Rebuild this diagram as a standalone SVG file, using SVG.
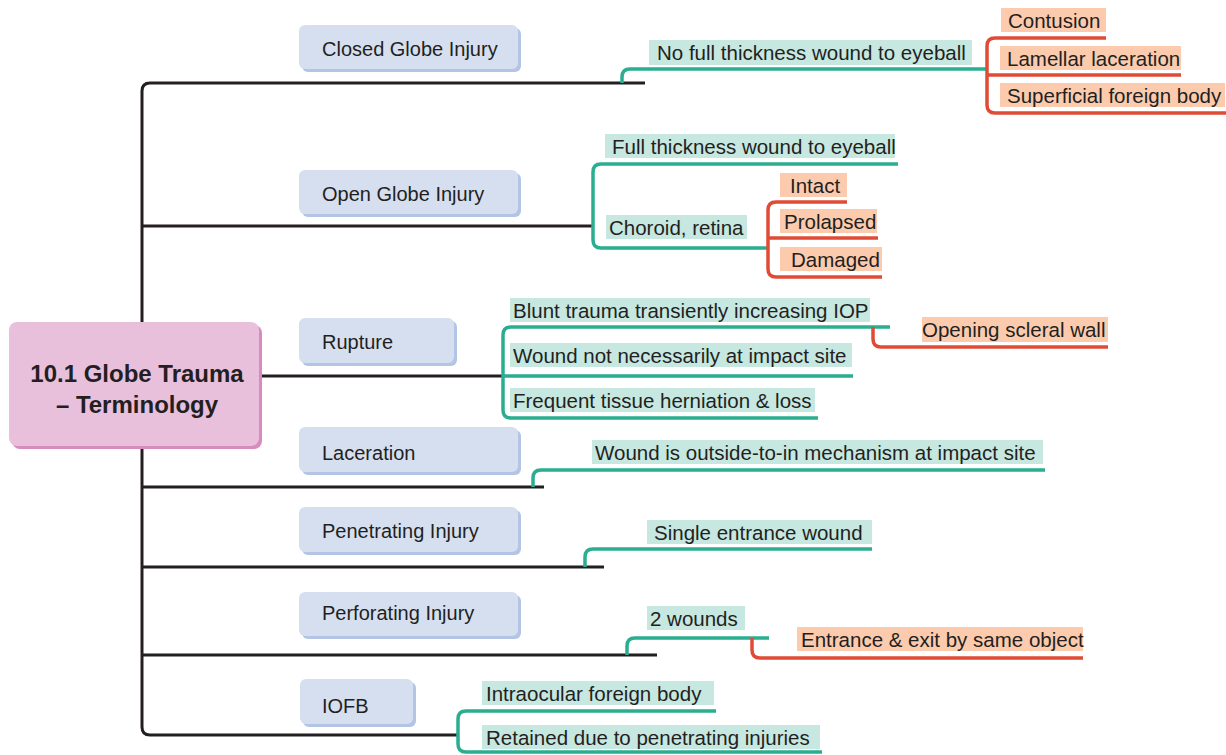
<svg xmlns="http://www.w3.org/2000/svg" width="1226" height="755" viewBox="0 0 1226 755">
<style>
text{font-family:"Liberation Sans",Arial,sans-serif;fill:#231f20;font-size:20.5px}
.title{font-weight:bold;font-size:24px;text-anchor:middle}
.ct{font-size:20px}
.cat{fill:#d6dff0}
.catsh{fill:#b4c4e4}
.tbg{fill:#c7e7e1}
.obg{fill:#fccbae}
.blk{stroke:#231f20;stroke-width:3;fill:none}
.tl{stroke:#2aae8f;stroke-width:3.5;fill:none}
.rd{stroke:#e04b36;stroke-width:3.5;fill:none}
</style>
<rect width="1226" height="755" fill="#ffffff"/>
<g id="connectors">
<path class="blk" d="M645,83 H150 Q142,83 142,91 V727 Q142,735 150,735 H459"/>
<path class="blk" d="M142,226 H593"/>
<path class="blk" d="M260,376 H503"/>
<path class="blk" d="M142,487 H544"/>
<path class="blk" d="M142,567 H604"/>
<path class="blk" d="M142,655 H657"/>
<path class="tl" d="M622,83 V77 Q622,69 630,69 H987"/>
<path class="tl" d="M898,164 H601 Q593,164 593,172 V240 Q593,248 601,248 H768"/>
<path class="tl" d="M890,327 H511 Q503,327 503,335 V410 Q503,418 511,418 H818 M503,376 H853"/>
<path class="tl" d="M533,487 V478 Q533,470 541,470 H1045"/>
<path class="tl" d="M585,567 V557 Q585,549 593,549 H872"/>
<path class="tl" d="M627,655 V646 Q627,638 635,638 H769"/>
<path class="tl" d="M716,711 H466 Q458,711 458,719 V744 Q458,752 466,752 H822"/>
<path class="rd" d="M1106,38 H995 Q987,38 987,46 V105 Q987,113 995,113 H1226 M987,75 H1181"/>
<path class="rd" d="M847,202 H776 Q768,202 768,210 V269 Q768,277 776,277 H882 M768,238 H878"/>
<path class="rd" d="M873,327 V339 Q873,347 881,347 H1108"/>
<path class="rd" d="M752,638 V650 Q752,658 760,658 H1083"/>
</g>
<g id="root">
<rect x="12" y="325" width="250" height="124" rx="8" fill="#d68cbf"/>
<rect x="9" y="322" width="250" height="124" rx="8" fill="#e8c0dc"/>
<text class="title" x="137" y="382">10.1 Globe Trauma</text>
<text class="title" x="137" y="413">– Terminology</text>
</g>
<g id="closed-globe">
<rect class="catsh" x="302" y="28" width="219" height="44" rx="6"/>
<rect class="cat" x="299" y="25" width="219" height="44" rx="6"/>
<text class="ct" x="322" y="56">Closed Globe Injury</text>
</g>
<g id="open-globe">
<rect class="catsh" x="302" y="173" width="219" height="44" rx="6"/>
<rect class="cat" x="299" y="170" width="219" height="44" rx="6"/>
<text class="ct" x="322" y="201">Open Globe Injury</text>
</g>
<g id="rupture">
<rect class="catsh" x="302" y="321" width="155" height="45" rx="6"/>
<rect class="cat" x="299" y="318" width="155" height="45" rx="6"/>
<text class="ct" x="322" y="349">Rupture</text>
</g>
<g id="laceration">
<rect class="catsh" x="302" y="430" width="219" height="45" rx="6"/>
<rect class="cat" x="299" y="427" width="219" height="45" rx="6"/>
<text class="ct" x="322" y="460">Laceration</text>
</g>
<g id="penetrating">
<rect class="catsh" x="302" y="510" width="219" height="45" rx="6"/>
<rect class="cat" x="299" y="507" width="219" height="45" rx="6"/>
<text class="ct" x="322" y="538">Penetrating Injury</text>
</g>
<g id="perforating">
<rect class="catsh" x="302" y="595" width="219" height="44" rx="6"/>
<rect class="cat" x="299" y="592" width="219" height="44" rx="6"/>
<text class="ct" x="322" y="620">Perforating Injury</text>
</g>
<g id="iofb">
<rect class="catsh" x="303" y="682" width="113" height="45" rx="6"/>
<rect class="cat" x="300" y="679" width="113" height="45" rx="6"/>
<text class="ct" x="322" y="713">IOFB</text>
</g>
<g id="leaf-no-full">
<rect class="tbg" x="649" y="40" width="323" height="25"/>
<text x="657" y="60">No full thickness wound to eyeball</text>
</g>
<g id="leaf-contusion">
<rect class="obg" x="1001" y="8" width="105" height="24"/>
<text x="1008" y="28">Contusion</text>
</g>
<g id="leaf-lamellar">
<rect class="obg" x="1000" y="46" width="181" height="24"/>
<text x="1007" y="66">Lamellar laceration</text>
</g>
<g id="leaf-superficial">
<rect class="obg" x="1000" y="83" width="225" height="24"/>
<text x="1007" y="103">Superficial foreign body</text>
</g>
<g id="leaf-full">
<rect class="tbg" x="605" y="134" width="290" height="24"/>
<text x="612" y="154">Full thickness wound to eyeball</text>
</g>
<g id="leaf-choroid">
<rect class="tbg" x="606" y="215" width="141" height="24"/>
<text x="609" y="235">Choroid, retina</text>
</g>
<g id="leaf-intact">
<rect class="obg" x="780" y="173" width="67" height="24"/>
<text x="790" y="193">Intact</text>
</g>
<g id="leaf-prolapsed">
<rect class="obg" x="780" y="209" width="97" height="24"/>
<text x="784" y="229">Prolapsed</text>
</g>
<g id="leaf-damaged">
<rect class="obg" x="780" y="247" width="102" height="24"/>
<text x="791" y="267">Damaged</text>
</g>
<g id="leaf-blunt">
<rect class="tbg" x="510" y="298" width="360" height="24"/>
<text x="513" y="318">Blunt trauma transiently increasing IOP</text>
</g>
<g id="leaf-opening">
<rect class="obg" x="922" y="317" width="186" height="25"/>
<text x="922" y="337">Opening scleral wall</text>
</g>
<g id="leaf-wound-not">
<rect class="tbg" x="510" y="343" width="342" height="24"/>
<text x="513" y="363">Wound not necessarily at impact site</text>
</g>
<g id="leaf-frequent">
<rect class="tbg" x="510" y="388" width="305" height="24"/>
<text x="513" y="408">Frequent tissue herniation &amp; loss</text>
</g>
<g id="leaf-outside">
<rect class="tbg" x="592" y="440" width="451" height="24"/>
<text x="595" y="460">Wound is outside-to-in mechanism at impact site</text>
</g>
<g id="leaf-single">
<rect class="tbg" x="647" y="520" width="225" height="24"/>
<text x="654" y="540">Single entrance wound</text>
</g>
<g id="leaf-2wounds">
<rect class="tbg" x="647" y="606" width="98" height="24"/>
<text x="650" y="626">2 wounds</text>
</g>
<g id="leaf-entrance">
<rect class="obg" x="797" y="627" width="286" height="24"/>
<text x="801" y="647">Entrance &amp; exit by same object</text>
</g>
<g id="leaf-intraocular">
<rect class="tbg" x="482" y="681" width="232" height="24"/>
<text x="486" y="701">Intraocular foreign body</text>
</g>
<g id="leaf-retained">
<rect class="tbg" x="482" y="725" width="338" height="24"/>
<text x="486" y="745">Retained due to penetrating injuries</text>
</g>
</svg>
